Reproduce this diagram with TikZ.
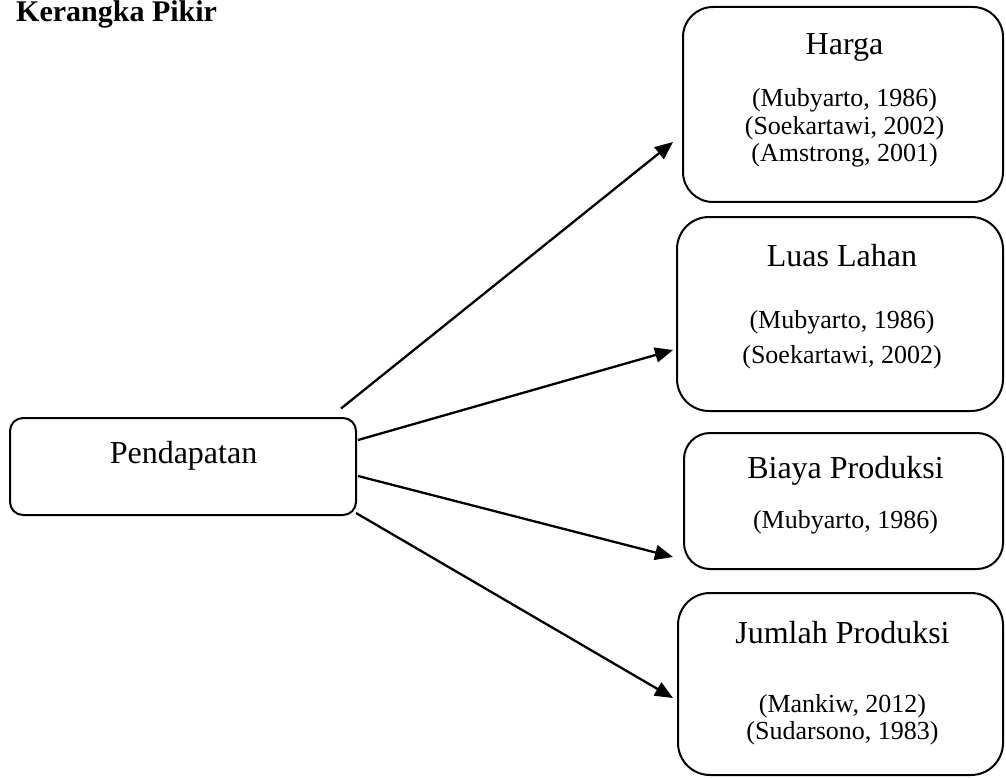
\documentclass[tikz,border=0pt]{standalone}
\usepackage{fontspec}
\setmainfont{Liberation Serif}
\usetikzlibrary{arrows.meta}
\tikzset{
  rbox/.style={draw, line width=2pt, rounded corners=#1, inner sep=0pt},
  ttl/.style={anchor=base, inner sep=0pt, font=\fontsize{32}{38}\selectfont},
  cite/.style={anchor=base, inner sep=0pt, font=\fontsize{26}{30}\selectfont},
  arr/.style={line width=2.3pt, -{Triangle[length=18pt,width=15pt]}},
}
\begin{document}
\begin{tikzpicture}[x=1pt,y=-1pt]
\useasboundingbox (0,0) rectangle (1006,778);
\node[anchor=base west, inner sep=0pt, font=\bfseries\fontsize{30}{36}\selectfont] (title) at (16,22) {Kerangka Pikir};

% boxes
\node[rbox=13pt, minimum width=346pt, minimum height=97pt] (pend) at (183,466.5) {};
\node[rbox=30pt, minimum width=320pt, minimum height=195pt] (harga) at (843,104.5) {};
\node[rbox=32pt, minimum width=326pt, minimum height=194pt] (luas) at (840,314) {};
\node[rbox=26pt, minimum width=319pt, minimum height=136pt] (biaya) at (843.5,501) {};
\node[rbox=32pt, minimum width=325pt, minimum height=182pt] (jumlah) at (840.5,684) {};

% texts
\node[ttl] (tpend) at (183.5,463) {Pendapatan};

\node[ttl] (tharga) at (844.5,55) {Harga};
\node[cite] (h1) at (844.5,107) {(Mubyarto, 1986)};
\node[cite] (h2) at (844.5,134.5) {(Soekartawi, 2002)};
\node[cite] (h3) at (844.5,162) {(Amstrong, 2001)};

\node[ttl] (tluas) at (842,266) {Luas Lahan};
\node[cite] (l1) at (842,328.5) {(Mubyarto, 1986)};
\node[cite] (l2) at (842,363.5) {(Soekartawi, 2002)};

\node[ttl] (tbiaya) at (845.5,478) {Biaya Produksi};
\node[cite] (b1) at (845.5,528.5) {(Mubyarto, 1986)};

\node[ttl] (tjumlah) at (842.5,643) {Jumlah Produksi};
\node[cite] (j1) at (842.5,712) {(Mankiw, 2012)};
\node[cite] (j2) at (842.5,739.5) {(Sudarsono, 1983)};

% connectors
\draw[arr] ([xshift=-16pt,yshift=8.5pt]pend.north east) -- ([xshift=-9pt,yshift=-37.5pt]harga.west);
\draw[arr] ([xshift=1pt,yshift=26.5pt]pend.east) -- ([xshift=-3pt,yshift=-36pt]luas.west);
\draw[arr] ([xshift=1pt,yshift=-9.5pt]pend.east) -- ([xshift=-10pt,yshift=-56pt]biaya.west);
\draw[arr] ([xshift=-1pt,yshift=-46.5pt]pend.east) -- ([xshift=-4pt,yshift=-14pt]jumlah.west);
\end{tikzpicture}
\end{document}
